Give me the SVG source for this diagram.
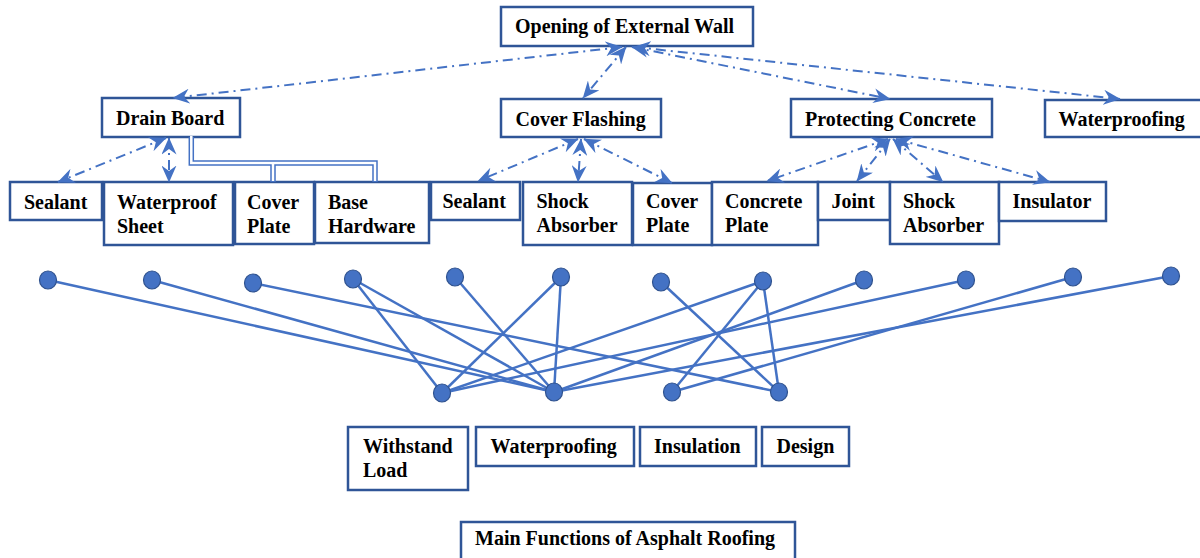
<svg xmlns="http://www.w3.org/2000/svg" width="1200" height="558" viewBox="0 0 1200 558">
  <style>
    .box { fill: #ffffff; stroke: #2F5597; stroke-width: 2.5; }
    .lbl { font-family: "Liberation Serif", "Times New Roman", serif; font-weight: bold; font-size: 20px; fill: #000000; }
    .dd { fill: none; stroke: #4472C4; stroke-width: 2; stroke-dasharray: 10 5 2 5; marker-start: url(#tip); marker-end: url(#tip); }
    .link { stroke: #4472C4; stroke-width: 2.5; fill: none; }
    .dot { fill: #4472C4; stroke: #2F528F; stroke-width: 1.2; }
    .dblOuter { fill: none; stroke: #4472C4; stroke-width: 5.5; }
    .dblInner { fill: none; stroke: #ffffff; stroke-width: 2.5; }
  </style>
  <defs>
    <marker id="tip" markerUnits="userSpaceOnUse" viewBox="0 0 17 15" markerWidth="17" markerHeight="15" refX="16.5" refY="7.5" orient="auto-start-reverse">
      <path d="M0,0 L17,7.5 L0,15 L5.5,7.5 Z" fill="#4472C4"/>
    </marker>
  </defs>

  <rect width="1200" height="558" fill="#ffffff"/>

  <!-- bipartite links between the two dot rows -->
  <g id="links">
    <line class="link" x1="48" y1="280" x2="554" y2="392"/>
    <line class="link" x1="152" y1="280" x2="554" y2="392"/>
    <line class="link" x1="253" y1="283" x2="779" y2="392"/>
    <line class="link" x1="353" y1="279" x2="442" y2="393"/>
    <line class="link" x1="353" y1="279" x2="554" y2="392"/>
    <line class="link" x1="455" y1="277" x2="554" y2="392"/>
    <line class="link" x1="561" y1="277" x2="442" y2="393"/>
    <line class="link" x1="561" y1="277" x2="554" y2="392"/>
    <line class="link" x1="661" y1="282" x2="779" y2="392"/>
    <line class="link" x1="763" y1="281" x2="442" y2="393"/>
    <line class="link" x1="763" y1="281" x2="672" y2="392"/>
    <line class="link" x1="763" y1="281" x2="779" y2="392"/>
    <line class="link" x1="864" y1="280" x2="554" y2="392"/>
    <line class="link" x1="966" y1="280" x2="442" y2="393"/>
    <line class="link" x1="1073" y1="277" x2="672" y2="392"/>
    <line class="link" x1="1171" y1="276" x2="554" y2="392"/>
  </g>

  <!-- boxes -->
  <g id="opening"><rect class="box" x="501" y="7" width="252" height="39"/><text class="lbl" x="515" y="33">Opening of External Wall</text></g>
  <g id="drain-board"><rect class="box" x="102" y="98" width="138" height="39"/><text class="lbl" x="116" y="125">Drain Board</text></g>
  <g id="cover-flashing"><rect class="box" x="501" y="99" width="160" height="38"/><text class="lbl" x="515.5" y="126">Cover Flashing</text></g>
  <g id="protecting-concrete"><rect class="box" x="791" y="99" width="201" height="38"/><text class="lbl" x="805" y="126">Protecting Concrete</text></g>
  <g id="waterproofing-top"><rect class="box" x="1045" y="100" width="165" height="37"/><text class="lbl" x="1058.5" y="126">Waterproofing</text></g>

  <g id="sealant-1"><rect class="box" x="10" y="182" width="92" height="38"/><text class="lbl" x="24" y="209">Sealant</text></g>
  <g id="waterproof-sheet"><rect class="box" x="104" y="182" width="129" height="63"/><text class="lbl" x="117" y="209">Waterproof</text><text class="lbl" x="117" y="232.5">Sheet</text></g>
  <g id="cover-plate-1"><rect class="box" x="235" y="182" width="79" height="62"/><text class="lbl" x="247" y="209">Cover</text><text class="lbl" x="247" y="232.5">Plate</text></g>
  <g id="base-hardware"><rect class="box" x="315" y="182" width="114" height="61"/><text class="lbl" x="328" y="209">Base</text><text class="lbl" x="328" y="232.5">Hardware</text></g>
  <g id="sealant-2"><rect class="box" x="431" y="182" width="89" height="38"/><text class="lbl" x="442.5" y="208">Sealant</text></g>
  <g id="shock-absorber-1"><rect class="box" x="523" y="182" width="109" height="63"/><text class="lbl" x="536.5" y="208">Shock</text><text class="lbl" x="536.5" y="232">Absorber</text></g>
  <g id="cover-plate-2"><rect class="box" x="633" y="183" width="79" height="62"/><text class="lbl" x="646" y="208">Cover</text><text class="lbl" x="646" y="232">Plate</text></g>
  <g id="concrete-plate"><rect class="box" x="712" y="182" width="106" height="63"/><text class="lbl" x="725" y="208">Concrete</text><text class="lbl" x="725" y="232">Plate</text></g>
  <g id="joint"><rect class="box" x="818" y="182" width="72" height="38"/><text class="lbl" x="831.5" y="208">Joint</text></g>
  <g id="shock-absorber-2"><rect class="box" x="890" y="182" width="109" height="62"/><text class="lbl" x="903" y="208">Shock</text><text class="lbl" x="903" y="232">Absorber</text></g>
  <g id="insulator"><rect class="box" x="999" y="182" width="107" height="39"/><text class="lbl" x="1012.5" y="208">Insulator</text></g>

  <g id="withstand-load"><rect class="box" x="348" y="427" width="120" height="63"/><text class="lbl" x="363" y="453">Withstand</text><text class="lbl" x="363" y="476.5">Load</text></g>
  <g id="waterproofing-bottom"><rect class="box" x="476" y="427" width="158" height="39"/><text class="lbl" x="490.5" y="453">Waterproofing</text></g>
  <g id="insulation"><rect class="box" x="640" y="427" width="116" height="39"/><text class="lbl" x="654" y="453">Insulation</text></g>
  <g id="design"><rect class="box" x="762" y="427" width="87" height="39"/><text class="lbl" x="776.5" y="453">Design</text></g>
  <g id="main-functions"><rect class="box" x="461" y="522" width="334" height="45"/><text class="lbl" x="475" y="545">Main Functions of Asphalt Roofing</text></g>

  <!-- dot rows -->
  <g id="top-dots">
    <ellipse class="dot" cx="48" cy="280" rx="8.5" ry="9"/>
    <ellipse class="dot" cx="152" cy="280" rx="8.5" ry="9"/>
    <ellipse class="dot" cx="253" cy="283" rx="8.5" ry="9"/>
    <ellipse class="dot" cx="353" cy="279" rx="8.5" ry="9"/>
    <ellipse class="dot" cx="455" cy="277" rx="8.5" ry="9"/>
    <ellipse class="dot" cx="561" cy="277" rx="8.5" ry="9"/>
    <ellipse class="dot" cx="661" cy="282" rx="8.5" ry="9"/>
    <ellipse class="dot" cx="763" cy="281" rx="8.5" ry="9"/>
    <ellipse class="dot" cx="864" cy="280" rx="8.5" ry="9"/>
    <ellipse class="dot" cx="966" cy="280" rx="8.5" ry="9"/>
    <ellipse class="dot" cx="1073" cy="277" rx="8.5" ry="9"/>
    <ellipse class="dot" cx="1171" cy="276" rx="8.5" ry="9"/>
  </g>
  <g id="bottom-dots">
    <ellipse class="dot" cx="442" cy="393" rx="8.5" ry="9"/>
    <ellipse class="dot" cx="554" cy="392" rx="8.5" ry="9"/>
    <ellipse class="dot" cx="672" cy="392" rx="8.5" ry="9"/>
    <ellipse class="dot" cx="779" cy="392" rx="8.5" ry="9"/>
  </g>

  <!-- hierarchy connectors -->
  <g id="connectors">
    <path class="dd" d="M622,47 L173,98"/>
    <path class="dd" d="M626,47 L583,98"/>
    <path class="dd" d="M632,47 L890,99"/>
    <path class="dd" d="M634,47 L1120,99"/>

    <path class="dd" d="M166,138 L58,182"/>
    <path class="dd" d="M169,138 L169,182"/>

    <path class="dd" d="M578,139 L478,181"/>
    <path class="dd" d="M581,139 L578,182"/>
    <path class="dd" d="M584,139 L672,183"/>

    <path class="dd" d="M888,139 L767,181"/>
    <path class="dd" d="M890,139 L857,181"/>
    <path class="dd" d="M893,139 L943,182"/>
    <path class="dd" d="M896,139 L1050,182"/>

    <path class="dblOuter" d="M191.3,137 V163 H375 V182 M273,163 V182"/>
    <path class="dblInner" d="M191.3,136 V163 H375 V181 M273,163 V181"/>
  </g>
</svg>
